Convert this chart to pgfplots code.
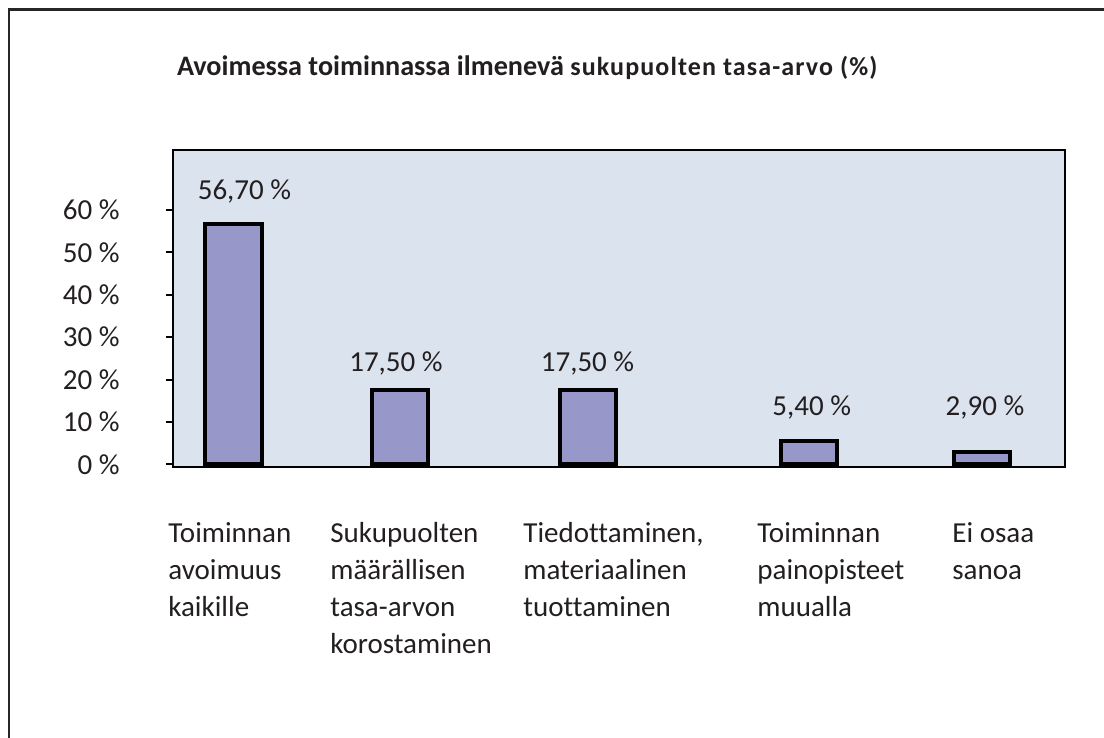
\documentclass[border=0pt]{standalone}
\usepackage{fontspec}
\setmainfont{Carlito}[Ligatures=NoCommon]
\usepackage{pgfplots}
\pgfplotsset{compat=1.18}
\definecolor{plotbg}{RGB}{219,227,239}
\definecolor{barfill}{RGB}{151,151,202}
\definecolor{txt}{RGB}{35,31,32}
\newcommand\lab[2]{\hspace*{#1}\begin{tabular}{@{}l@{}}#2\end{tabular}}
\newcommand\bigf{\fontsize{14.5}{18.5}\selectfont}
\begin{document}
\begin{tikzpicture}
\useasboundingbox (0,0) rectangle (552pt,369pt);
\clip (0,0) rectangle (552pt,369pt);
\fill[white] (0,0) rectangle (552pt,369pt);
\draw[line width=1.3pt, black!85] (4.4pt,-20pt) rectangle (580pt,364.2pt);
\node[anchor=base west, inner sep=0pt, text=txt] at (88.3pt,331pt) {\fontsize{14.1}{17}\selectfont\bfseries Avoimessa toiminnassa ilmenevä {\fontsize{13}{15}\selectfont\addfontfeatures{LetterSpace=4.3}sukupuolten tasa-arvo (\%)}};
\begin{axis}[
  at={(86.5pt,135.5pt)}, anchor=south west,
  scale only axis, width=446pt, height=158.5pt,
  xmin=173, xmax=1065, ymin=-0.64, ymax=74.2,
  axis background/.style={fill=plotbg},
  axis line style={line width=1.2pt, black},
  tick align=outside, major tick length=3.5pt,
  ytick pos=left,
  ytick={0,10,20,30,40,50,60},
  yticklabels={0 \%,10 \%,20 \%,30 \%,40 \%,50 \%,60 \%},
  ytick style={line width=1pt, black},
  y tick label style={font=\bigf, text=txt, anchor=east, inner sep=0pt, xshift=-23pt},
  xtick={233.5,400,588,809,982},
  xtick style={draw=none},
  xticklabels={
    {\lab{-32.75pt}{Toiminnan\\avoimuus\\kaikille}},
    {\lab{-35pt}{Sukupuolten\\määrällisen\\tasa-arvon\\korostaminen}},
    {\lab{-32.5pt}{Tiedottaminen,\\materiaalinen\\tuottaminen}},
    {\lab{-26pt}{Toiminnan\\painopisteet\\muualla}},
    {\lab{-15pt}{Ei osaa\\sanoa}}},
  x tick label style={font=\bigf, text=txt, anchor=north west, inner sep=0pt, yshift=-21pt},
]
\addplot[ybar, bar width=28pt, fill=barfill, draw=black, line width=2pt]
  coordinates {(233.5,56.7) (400,17.5) (588,17.5) (809,5.4) (982,2.9)};
\addplot[draw=none, mark=none, nodes near coords, point meta=explicit symbolic,
  every node near coord/.style={anchor=base, inner sep=0pt, font=\bigf, text=txt}]
  coordinates {(244.5,62.4)[56,70 \%] (396,21.8)[17,50 \%] (587.5,21.8)[17,50 \%] (811.7,11.6)[5,40 \%] (985,11.6)[2,90 \%]};
\end{axis}
\end{tikzpicture}
\end{document}
